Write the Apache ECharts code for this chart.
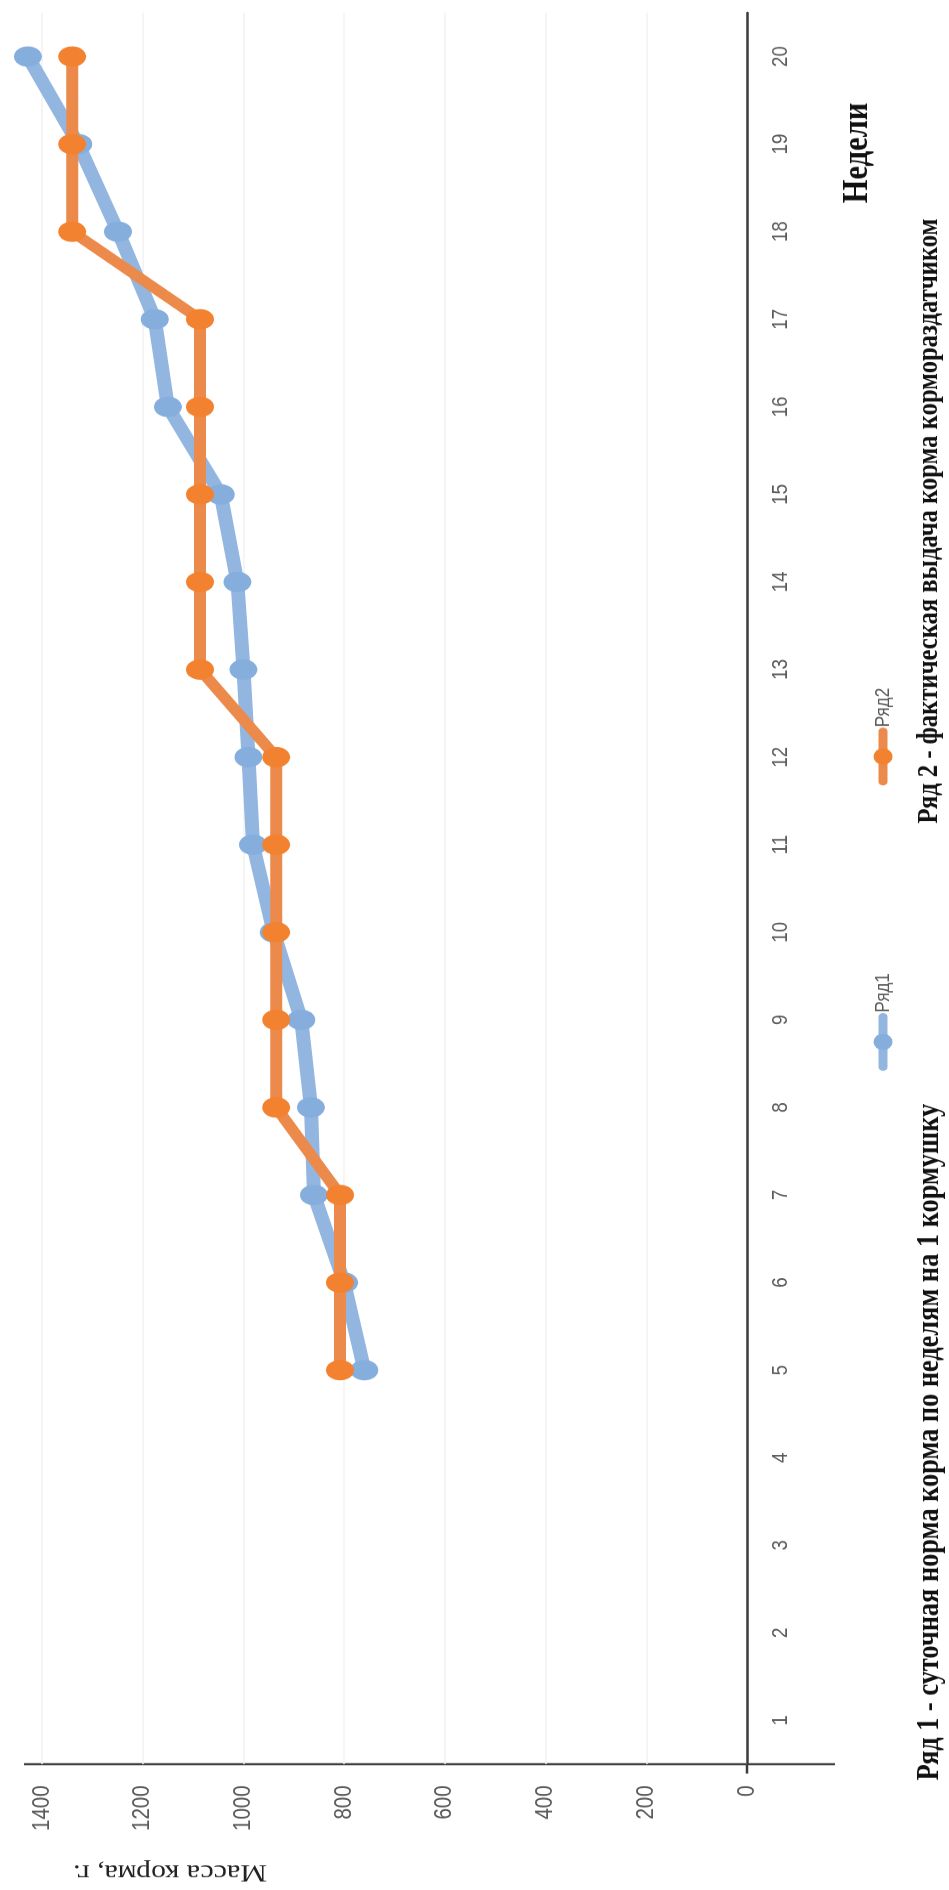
<!DOCTYPE html>
<html>
<head>
<meta charset="utf-8">
<script src="https://cdn.jsdelivr.net/npm/echarts@6/dist/echarts.min.js"></script>
<style>
html,body{margin:0;padding:0;background:#fff;overflow:hidden;}
#wrap{position:absolute;left:0;top:0;width:949px;height:1890px;overflow:hidden;background:#fff;}
#chart{position:absolute;left:0;top:0;width:2224px;height:949px;transform-origin:0 0;transform:translateY(1890px) rotate(-90deg) scaleX(0.8498);}
</style>
</head>
<body>
<div id="wrap"><div id="chart"></div></div>
<script>
// ---- data ----
const weeks = ['1','2','3','4','5','6','7','8','9','10','11','12','13','14','15','16','17','18','19','20'];
const row1 = [null, null, null, null, 760, 800, 860, 866, 885, 940, 981, 990, 1000, 1012, 1045, 1150, 1176, 1249, 1328, 1428];
const row2 = [null, null, null, null, 808, 808, 808, 935, 935, 935, 935, 935, 1086, 1086, 1086, 1086, 1086, 1340, 1340, 1340];
const valueTicks = [0, 200, 400, 600, 800, 1000, 1200, 1400];
const seriesNames = ['Ряд1', 'Ряд2'];
const xAxisTitle = 'Недели';
const yAxisTitle = 'Масса корма, г.';
const caption1 = 'Ряд 1 - суточная норма корма по неделям на 1 кормушку';
const caption2 = 'Ряд 2 - фактическая выдача корма кормораздатчиком';

const chart = echarts.init(document.getElementById('chart'), null, {renderer: 'canvas'});
const axisColor = '#3c3c3c';
const labelColor = '#5a5a5a';

chart.setOption({
  animation: false,
  backgroundColor: '#ffffff',
  grid: {left: 148, right: 15, top: 42, bottom: 202, containLabel: false},
  legend: {
    data: seriesNames,
    left: 959, top: 868,
    itemWidth: 59, itemHeight: 24, itemGap: 221,
    textStyle: {fontSize: 20, color: labelColor, fontFamily: 'Liberation Sans'},
    lineStyle: {width: 9}
  },
  xAxis: {
    type: 'category',
    data: weeks,
    boundaryGap: true,
    axisLine: {onZero: true, lineStyle: {color: axisColor, width: 2.5}},
    axisTick: {show: false},
    axisLabel: {interval: 0, fontSize: 22, color: labelColor, margin: 23, fontFamily: 'Liberation Sans'},
    splitLine: {show: false}
  },
  yAxis: {
    type: 'value',
    min: valueTicks[0],
    max: valueTicks[valueTicks.length - 1],
    interval: valueTicks[1] - valueTicks[0],
    axisLine: {show: false},
    axisTick: {show: false},
    axisLabel: {fontSize: 24, color: labelColor, margin: 25, fontFamily: 'Liberation Sans', formatter: v => String(v)},
    splitLine: {lineStyle: {color: '#f2f2f2', width: 1.5}}
  },
  series: [
    {
      name: seriesNames[0], type: 'line', data: row1,
      symbol: 'circle', symbolSize: [24, 28], clip: false, z: 2,
      lineStyle: {width: 14, color: '#93b6e0', cap: 'round', join: 'round'},
      itemStyle: {color: '#86aedd'}
    },
    {
      name: seriesNames[1], type: 'line', data: row2,
      symbol: 'circle', symbolSize: [24, 28], clip: false, z: 3,
      lineStyle: {width: 12, color: '#eb8a4a', cap: 'round', join: 'round'},
      itemStyle: {color: '#f2822f'}
    }
  ],
  graphic: [
    {type: 'line', shape: {x1: 148, y1: 24, x2: 148, y2: 835}, style: {stroke: axisColor, lineWidth: 2.5}, silent: true},
    {type: 'line', shape: {x1: 137, y1: 747, x2: 149, y2: 747}, style: {stroke: axisColor, lineWidth: 2.5}, silent: true},
    {type: 'text', x: 2044, y: 858, silent: true,
      style: {text: xAxisTitle, font: 'bold 36px "Liberation Serif"', fill: '#111', align: 'center', verticalAlign: 'middle'}},
    {type: 'text', x: 21, y: 170, rotation: Math.PI / 2, silent: true,
      style: {text: yAxisTitle, font: '30px "Liberation Serif"', fill: '#222', align: 'center', verticalAlign: 'middle'}},
    {type: 'text', x: 129, y: 930, silent: true,
      style: {text: caption1, font: 'bold 31px "Liberation Serif"', fill: '#111', align: 'left', verticalAlign: 'middle'}},
    {type: 'text', x: 1255, y: 930, silent: true,
      style: {text: caption2, font: 'bold 29px "Liberation Serif"', fill: '#111', align: 'left', verticalAlign: 'middle'}}
  ]
});
</script>
</body>
</html>
